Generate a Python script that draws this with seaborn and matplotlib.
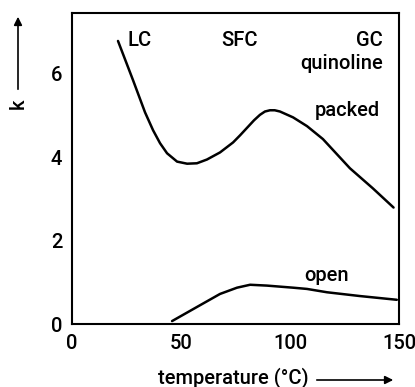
import matplotlib
matplotlib.use("Agg")
import matplotlib.pyplot as plt
import seaborn as sns
import pandas as pd
from matplotlib.ticker import MultipleLocator, FuncFormatter

# Data
packed_temp = [21.1, 28.0, 33.5, 37.2, 40.4, 43.6, 48.2, 52.8, 57.3, 61.9, 67.9, 73.9, 77.1, 80.3, 83.5,
               86.2, 88.5, 90.8, 93.0, 95.4, 101.4, 107.8, 115.1, 127.5, 138.0, 147.5]
packed_k = [6.78, 5.84, 5.07, 4.64, 4.33, 4.09, 3.89, 3.84, 3.85, 3.94, 4.11, 4.35, 4.52, 4.70, 4.88,
            5.01, 5.09, 5.12, 5.12, 5.09, 4.95, 4.74, 4.43, 3.73, 3.25, 2.79]
open_temp = [45.9, 60.1, 67.9, 75.7, 81.7, 89.4, 101.4, 107.8, 117, 132, 149]
open_k = [0.07, 0.49, 0.72, 0.87, 0.94, 0.92, 0.87, 0.84, 0.76, 0.67, 0.58]
x_tick_labels = [0, 50, 100, 150]
y_tick_labels = [0, 2, 4, 6]

sns.set_style("white")
plt.rcParams['font.family'] = ["Roboto", "DejaVu Sans"]
plt.rcParams['font.weight'] = "medium"
plt.rcParams['text.color'] = "black"
plt.rcParams['xtick.color'] = "black"
plt.rcParams['ytick.color'] = "black"

fig = plt.figure(figsize=(4.15, 3.87), dpi=100)
ax = fig.add_axes([72/415, 63/387, 327/415, 311/387])

df_p = pd.DataFrame({"temperature": packed_temp, "k": packed_k})
df_o = pd.DataFrame({"temperature": open_temp, "k": open_k})
sns.lineplot(data=df_p, x="temperature", y="k", ax=ax, color="black", lw=1.8, sort=False)
sns.lineplot(data=df_o, x="temperature", y="k", ax=ax, color="black", lw=1.8, sort=False)

ax.set_xlim(0, 150)
ax.set_ylim(0, 7.45)
ax.xaxis.set_major_locator(MultipleLocator(25))
ax.yaxis.set_major_locator(MultipleLocator(1))
ax.xaxis.set_major_formatter(FuncFormatter(lambda v, p: f"{int(round(v))}" if int(round(v)) in x_tick_labels else ""))
ax.yaxis.set_major_formatter(FuncFormatter(lambda v, p: f"{int(round(v))}" if int(round(v)) in y_tick_labels else ""))
ax.tick_params(direction="in", length=4, width=1, colors="black", labelsize=14.5, pad=7)
for lbl in ax.get_xticklabels() + ax.get_yticklabels():
    lbl.set_fontweight("medium")
for s in ax.spines.values():
    s.set_color("black")
    s.set_linewidth(1.5)
ax.set_xlabel("")
ax.set_ylabel("")

fs = 14.5
ax.text(25.5, 6.78, "LC", fontsize=fs, ha="left", va="center")
ax.text(77, 6.78, "SFC", fontsize=fs, ha="center", va="center")
ax.text(142.5, 6.78, "GC", fontsize=fs, ha="right", va="center")
ax.text(142.5, 6.25, "quinoline", fontsize=fs, ha="right", va="center")
ax.text(126.5, 5.12, "packed", fontsize=fs, ha="center", va="center")
ax.text(117, 1.15, "open", fontsize=fs, ha="center", va="center")

# axis labels with arrows
fig.text(233/415, 1 - 378/387, "temperature (°C)", fontsize=fs, ha="center", va="center")
fig.add_artist(matplotlib.patches.FancyArrowPatch((314/415, 1 - 380/387), (396/415, 1 - 380/387),
                                                  transform=fig.transFigure, arrowstyle="-|>", mutation_scale=12,
                                                  color="black", lw=1.2))
fig.text(18/415, 1 - 104/387, "k", fontsize=fs, ha="center", va="center", rotation=90)
fig.add_artist(matplotlib.patches.FancyArrowPatch((18/415, 1 - 92/387), (18/415, 1 - 14/387),
                                                  transform=fig.transFigure, arrowstyle="-|>", mutation_scale=12,
                                                  color="black", lw=1.2))

fig.savefig("out.png", dpi=100)
